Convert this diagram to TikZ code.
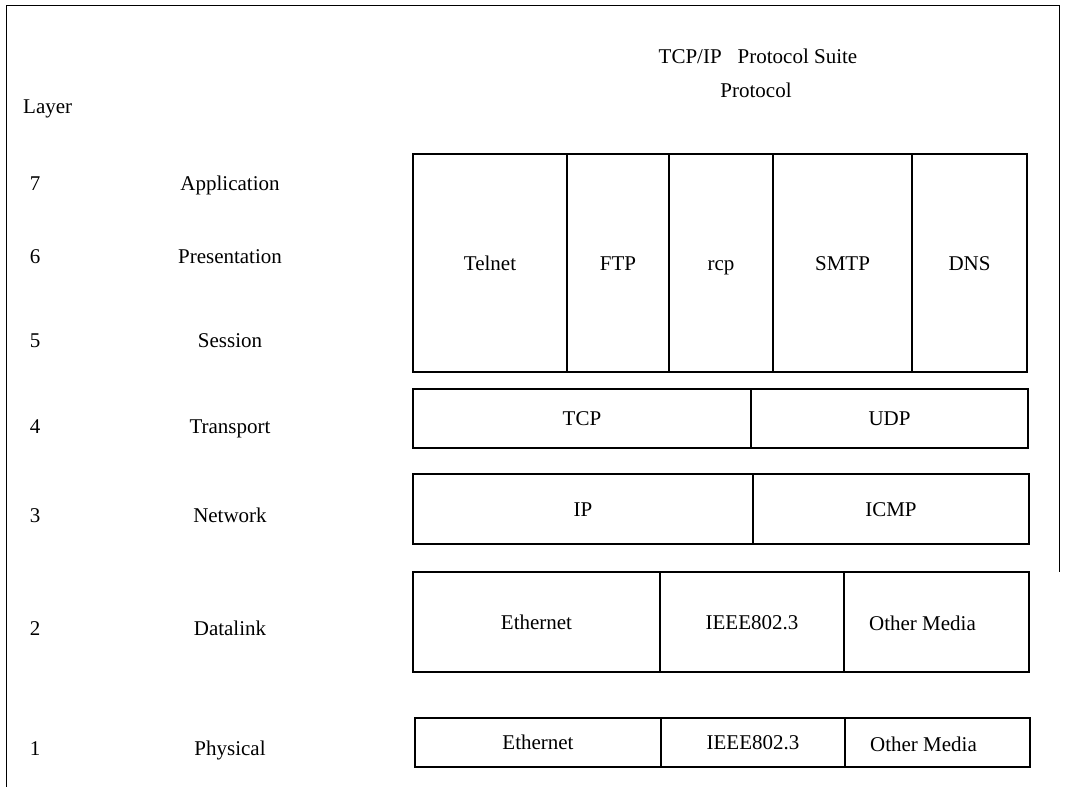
\documentclass[tikz,border=0pt]{standalone}
\usepackage{fontspec}
\setmainfont{Liberation Serif}
\begin{document}
\begin{tikzpicture}[x=1pt, y=-1pt, font=\fontsize{21}{25}\selectfont,
    cell/.style={draw, line width=1.5pt, inner sep=0pt, outer sep=0pt,
      anchor=north west, text height=14pt, text depth=0pt},
    lbl/.style={anchor=base, inner sep=0pt}]
    \useasboundingbox (0,0) rectangle (1080,787);

    % 1. Outer frame
    \draw[line width=1pt] (6,787) -- (6,5) -- (1059,5) -- (1059,572);

    % 2. Headings
    \node[lbl, anchor=base west] (layerhead) at (23,113) {Layer};
    \node[lbl] (suite) at (758,63) {TCP/IP\hspace{16pt}Protocol Suite};
    \node[lbl] (proto) at (756,97) {Protocol};

    % 3. OSI layer numbers and names
    \foreach \num/\name/\y in {7/Application/190, 6/Presentation/263, 5/Session/347,
        4/Transport/433, 3/Network/522, 2/Datalink/635, 1/Physical/755} {
        \node[lbl] (num\num) at (35,\y) {\num};
        \node[lbl] (osi\num) at (230,\y) {\name};
    }

    % 4. Application layers 5-7
    \node[cell, minimum width=154pt, minimum height=218pt] (telnet) at (413,154) {Telnet};
    \node[cell, minimum width=102pt, minimum height=218pt] (ftp) at (telnet.north east) {FTP};
    \node[cell, minimum width=104pt, minimum height=218pt] (rcp) at (ftp.north east) {rcp};
    \node[cell, minimum width=139pt, minimum height=218pt] (smtp) at (rcp.north east) {SMTP};
    \node[cell, minimum width=115pt, minimum height=218pt] (dns) at (smtp.north east) {DNS};

    % 5. Transport layer
    \node[cell, minimum width=338pt, minimum height=59pt] (tcp) at (413,389) {TCP};
    \node[cell, minimum width=277pt, minimum height=59pt] (udp) at (tcp.north east) {UDP};

    % 6. Network layer
    \node[cell, minimum width=340pt, minimum height=70pt] (ip) at (413,474) {IP};
    \node[cell, minimum width=276pt, minimum height=70pt] (icmp) at (ip.north east) {ICMP};

    % 7. Datalink layer
    \node[cell, minimum width=247pt, minimum height=100pt] (dlether) at (413,572) {Ethernet};
    \node[cell, minimum width=184pt, minimum height=100pt] (dlieee) at (dlether.north east) {IEEE802.3};
    \node[cell, minimum width=185pt, minimum height=100pt] (dlother) at (dlieee.north east) {};
    \node[lbl] (dlothertext) at ([xshift=-14pt, yshift=-8pt]dlother.center) {Other Media};

    % 8. Physical layer
    \node[cell, minimum width=246pt, minimum height=49pt] (phether) at (415,718) {Ethernet};
    \node[cell, minimum width=184pt, minimum height=49pt] (phieee) at (phether.north east) {IEEE802.3};
    \node[cell, minimum width=185pt, minimum height=49pt] (phother) at (phieee.north east) {};
    \node[lbl] (phothertext) at ([xshift=-14pt, yshift=-9pt]phother.center) {Other Media};

\end{tikzpicture}
\end{document}
